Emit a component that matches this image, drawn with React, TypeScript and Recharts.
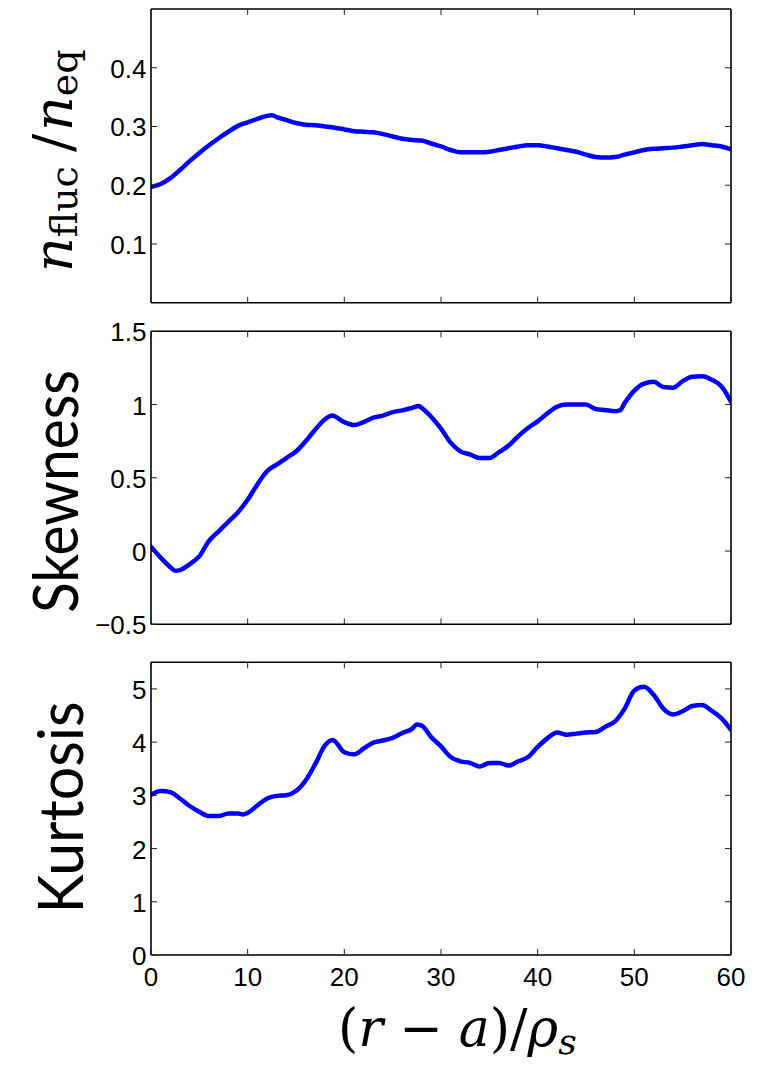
import React from 'react';
import { LineChart, Line, XAxis, YAxis } from 'recharts';

// ---------- data ----------
const xTicks = [0, 10, 20, 30, 40, 50, 60];

const fluxX = [0, 1, 2, 3, 4, 5, 6, 7, 8, 9, 10, 11, 12, 12.5, 13, 14, 15, 16, 17, 18, 19, 20, 21, 22, 23, 24, 25, 26, 27, 28, 29, 30, 31, 32, 33, 34, 35, 36, 37, 38, 39, 40, 41, 42, 43, 44, 45, 46, 47, 48, 49, 50, 51, 52, 53, 54, 55, 56, 57, 58, 59, 60];
const fluxY = [0.197, 0.202, 0.212, 0.226, 0.241, 0.255, 0.268, 0.28, 0.291, 0.301, 0.307, 0.313, 0.318, 0.319, 0.316, 0.311, 0.306, 0.303, 0.302, 0.3, 0.298, 0.295, 0.292, 0.291, 0.29, 0.287, 0.283, 0.279, 0.277, 0.276, 0.271, 0.266, 0.26, 0.256, 0.256, 0.256, 0.257, 0.26, 0.263, 0.266, 0.268, 0.268, 0.266, 0.263, 0.26, 0.257, 0.252, 0.248, 0.247, 0.248, 0.252, 0.256, 0.26, 0.262, 0.263, 0.264, 0.266, 0.268, 0.27, 0.268, 0.266, 0.261];
const fluxTicks = [0.1, 0.2, 0.3, 0.4];

const skewX = [0, 1, 2, 2.5, 3, 4, 5, 6, 7, 8, 9, 10, 11, 12, 13, 14, 15, 16, 17, 18, 18.8, 19, 20, 21, 22, 23, 24, 25, 26, 27, 27.7, 28, 29, 30, 31, 32, 33, 34, 35, 36, 37, 38, 39, 40, 41, 42, 43, 44, 45, 46, 47, 48, 48.5, 49, 50, 51, 52, 53, 54, 55, 56, 57, 58, 59, 60];
const skewY = [0.03, -0.045, -0.11, -0.135, -0.13, -0.09, -0.035, 0.07, 0.135, 0.2, 0.265, 0.35, 0.455, 0.545, 0.59, 0.635, 0.68, 0.75, 0.83, 0.9, 0.925, 0.92, 0.88, 0.86, 0.88, 0.91, 0.925, 0.948, 0.96, 0.977, 0.99, 0.977, 0.915, 0.835, 0.74, 0.68, 0.66, 0.635, 0.635, 0.675, 0.72, 0.785, 0.84, 0.885, 0.94, 0.985, 1.0, 1.0, 1.0, 0.97, 0.963, 0.955, 0.96, 1.01, 1.095, 1.143, 1.155, 1.12, 1.115, 1.16, 1.19, 1.193, 1.17, 1.125, 1.02];
const skewTicks = [-0.5, 0, 0.5, 1, 1.5];

const kurtX = [0, 1, 2, 3, 4, 5, 6, 7, 8, 9, 9.5, 10, 11, 12, 13, 14, 15, 16, 17, 18, 18.8, 19, 20, 21, 22, 23, 24, 25, 26, 27, 27.5, 28, 29, 30, 31, 32, 33, 34, 35, 36, 37, 38, 39, 40, 41, 42, 43, 44, 45, 46, 47, 48, 49, 50, 51, 52, 53, 54, 55, 56, 57, 58, 59, 60];
const kurtY = [3.01, 3.08, 3.06, 2.94, 2.8, 2.69, 2.61, 2.61, 2.66, 2.66, 2.64, 2.67, 2.81, 2.94, 2.99, 3.0, 3.08, 3.28, 3.59, 3.94, 4.04, 4.02, 3.81, 3.77, 3.88, 3.99, 4.03, 4.08, 4.17, 4.25, 4.33, 4.31, 4.09, 3.92, 3.72, 3.64, 3.61, 3.54, 3.61, 3.61, 3.56, 3.64, 3.72, 3.91, 4.07, 4.18, 4.14, 4.16, 4.18, 4.19, 4.29, 4.39, 4.63, 4.97, 5.04, 4.89, 4.63, 4.52, 4.58, 4.68, 4.7, 4.59, 4.45, 4.23];
const kurtTicks = [0, 1, 2, 3, 4, 5];

// ---------- layout & styles ----------
const CHART_W = 765;
const PLOT_LEFT = 151;
const PLOT_RIGHT = 731;
const TICK_FONT = '"Liberation Sans", Arial, Helvetica, sans-serif';
const TICK_SIZE = 26;
const TICK_LEN = 6;
const TICK_COLOR = '#222';
const axisStyle = { stroke: '#000', strokeWidth: 1.6 };

const fmt = (v: number) => (v < 0 ? '\u2212' + String(Math.abs(v)) : String(v));

const leftTick = (props: any) => {
  const { y, payload } = props;
  return (
    <g>
      <line x1={PLOT_LEFT} x2={PLOT_LEFT + TICK_LEN} y1={y} y2={y} stroke={TICK_COLOR} strokeWidth={1} />
      <text x={PLOT_LEFT - 4.5} y={y + 10} textAnchor="end" fontSize={TICK_SIZE} fontFamily={TICK_FONT} fill="#000">
        {fmt(payload.value)}
      </text>
    </g>
  );
};

const rightTick = (props: any) => {
  const { y } = props;
  return <line x1={PLOT_RIGHT} x2={PLOT_RIGHT - TICK_LEN} y1={y} y2={y} stroke={TICK_COLOR} strokeWidth={1} />;
};

const makeTopTick = (plotTop: number) => (props: any) => {
  const { x } = props;
  return <line x1={x} x2={x} y1={plotTop} y2={plotTop + TICK_LEN} stroke={TICK_COLOR} strokeWidth={1} />;
};

const makeBottomTick = (plotBottom: number, showText: boolean) => (props: any) => {
  const { x, payload } = props;
  return (
    <g>
      <line x1={x} x2={x} y1={plotBottom} y2={plotBottom - TICK_LEN} stroke={TICK_COLOR} strokeWidth={1} />
      {showText && (
        <text x={x} y={plotBottom + 31} textAnchor="middle" fontSize={TICK_SIZE} fontFamily={TICK_FONT} fill="#000">
          {fmt(payload.value)}
        </text>
      )}
    </g>
  );
};

// ---------- labels ----------
const SERIF = '"DejaVu Serif", "Liberation Serif", serif';
const SANS_LABEL = 'Lato, "Open Sans", sans-serif';

const FluxLabel = () => (
  <text x={72} y={272} transform="rotate(-90, 72, 272)" textAnchor="start" fontFamily={SERIF} fill="#000">
    <tspan fontStyle="italic" fontSize={54}>n</tspan>
    <tspan fontSize={38} dy={5}>fluc</tspan>
    <tspan fontSize={54} dy={-5} dx={14}>/</tspan>
    <tspan fontStyle="italic" fontSize={54} dx={3}>n</tspan>
    <tspan fontSize={38} dy={5}>eq</tspan>
  </text>
);

const SkewLabel = () => (
  <text
    x={78}
    y={181.5}
    transform="rotate(-90, 78, 181.5)"
    textAnchor="middle"
    fontFamily={SANS_LABEL}
    fontSize={62}
    fill="#000"
    textLength={243}
    lengthAdjust="spacingAndGlyphs"
  >
    Skewness
  </text>
);

const KurtLabel = () => (
  <text
    x={83}
    y={167.5}
    transform="rotate(-90, 83, 167.5)"
    textAnchor="middle"
    fontFamily={SANS_LABEL}
    fontSize={62}
    fill="#000"
    textLength={212}
    lengthAdjust="spacingAndGlyphs"
  >
    Kurtosis
  </text>
);

const XLabel = () => (
  <text x={338} y={406} textAnchor="start" fontFamily={SERIF} fontSize={52} fill="#000">
    <tspan>(</tspan>
    <tspan fontStyle="italic">r</tspan>
    <tspan dx={16}>{'\u2212'}</tspan>
    <tspan fontStyle="italic" dx={16}>a</tspan>
    <tspan>)/</tspan>
    <tspan fontStyle="italic">{'\u03c1'}</tspan>
    <tspan fontStyle="italic" fontSize={36} dy={8}>s</tspan>
  </text>
);

// ---------- panel ----------
type PanelProps = {
  xs: number[];
  ys: number[];
  top: number;
  height: number;
  plotTop: number;
  plotBottom: number;
  xAxisHeight: number;
  domain: [number, number];
  yTicks: number[];
  showX: boolean;
  yLabel: React.ReactElement;
  xLabel?: React.ReactElement;
};

const Panel = (p: PanelProps) => {
  const data = p.xs.map((x, i) => ({ x, y: p.ys[i] }));
  const marginTop = p.plotTop - 1;
  const marginBottom = p.height - p.plotBottom - p.xAxisHeight;
  return (
    <div style={{ position: 'absolute', left: 0, top: p.top, width: CHART_W, height: p.height }}>
      <LineChart
        width={CHART_W}
        height={p.height}
        data={data}
        margin={{ top: marginTop, right: CHART_W - PLOT_RIGHT - 1, bottom: marginBottom, left: 0 }}
      >
        <XAxis
          dataKey="x"
          type="number"
          domain={[0, 60]}
          ticks={xTicks}
          allowDataOverflow
          interval={0}
          height={p.xAxisHeight}
          tickSize={0}
          tickMargin={0}
          tickLine={false}
          axisLine={axisStyle}
          tick={makeBottomTick(p.plotBottom, p.showX)}
          label={p.xLabel}
        />
        <XAxis
          xAxisId="t"
          dataKey="x"
          orientation="top"
          type="number"
          domain={[0, 60]}
          ticks={xTicks}
          allowDataOverflow
          interval={0}
          height={1}
          tickSize={0}
          tickMargin={0}
          tickLine={false}
          axisLine={axisStyle}
          tick={makeTopTick(p.plotTop)}
        />
        <YAxis
          type="number"
          domain={p.domain}
          ticks={p.yTicks}
          allowDataOverflow
          interval={0}
          width={PLOT_LEFT}
          tickSize={0}
          tickMargin={0}
          tickLine={false}
          axisLine={axisStyle}
          tick={leftTick}
          label={p.yLabel}
        />
        <YAxis
          yAxisId="r"
          orientation="right"
          type="number"
          domain={p.domain}
          ticks={p.yTicks}
          allowDataOverflow
          interval={0}
          width={1}
          tickSize={0}
          tickMargin={0}
          tickLine={false}
          axisLine={axisStyle}
          tick={rightTick}
        />
        <Line
          dataKey="y"
          type="monotone"
          stroke="#0000ff"
          strokeWidth={4.5}
          dot={false}
          activeDot={false}
          strokeLinecap="round"
          strokeLinejoin="round"
          isAnimationActive={false}
        />
      </LineChart>
    </div>
  );
};

export default function App() {
  return (
    <div style={{ position: 'absolute', left: 0, top: 0, width: CHART_W, height: 1066, background: '#fff' }}>
      <Panel
        xs={fluxX}
        ys={fluxY}
        top={0}
        height={310}
        plotTop={9}
        plotBottom={302.7}
        xAxisHeight={1}
        domain={[0, 0.5]}
        yTicks={fluxTicks}
        showX={false}
        yLabel={<FluxLabel />}
      />
      <Panel
        xs={skewX}
        ys={skewY}
        top={310}
        height={330}
        plotTop={21.3}
        plotBottom={314.3}
        xAxisHeight={1}
        domain={[-0.5, 1.5]}
        yTicks={skewTicks}
        showX={false}
        yLabel={<SkewLabel />}
      />
      <Panel
        xs={kurtX}
        ys={kurtY}
        top={640}
        height={426}
        plotTop={22.3}
        plotBottom={315}
        xAxisHeight={111}
        domain={[0, 5.5]}
        yTicks={kurtTicks}
        showX={true}
        yLabel={<KurtLabel />}
        xLabel={<XLabel />}
      />
    </div>
  );
}
